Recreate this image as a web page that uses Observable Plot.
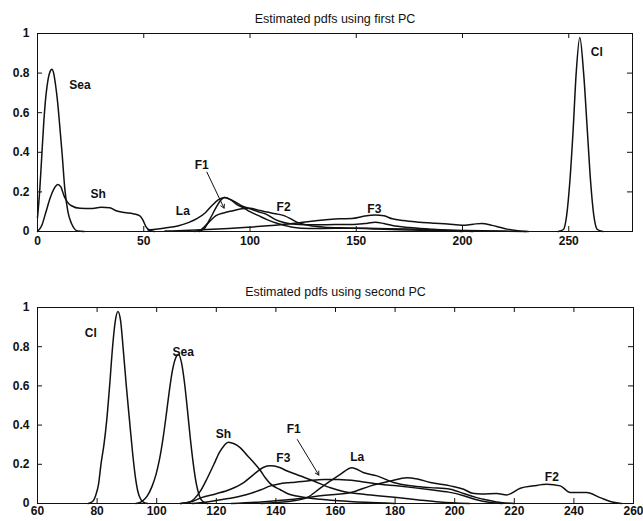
<!DOCTYPE html>
<html>
<head>
<meta charset="utf-8">
<script src="https://cdn.jsdelivr.net/npm/d3@7"></script>
<script src="https://cdn.jsdelivr.net/npm/@observablehq/plot@0.6"></script>
<style>
  html, body { margin: 0; padding: 0; background: #fff; }
  #wrap { width: 643px; height: 521px; overflow: hidden; }
  #wrap svg { display: block; }
</style>
</head>
<body>
<div id="wrap"></div>
<script>
// ---------- Titles ----------
const titleTop = "Estimated pdfs using first PC";
const titleBottom = "Estimated pdfs using second PC";

// ---------- Tick values ----------
const xTicksTop = [0, 50, 100, 150, 200, 250];
const xTicksBottom = [60, 80, 100, 120, 140, 160, 180, 200, 220, 240, 260];
const yTicks = [0, 0.2, 0.4, 0.6, 0.8, 1];

// ---------- Top panel (first PC) series: [x, density] ----------
const topSea = [[0,0.07],[1,0.2],[2,0.38],[3,0.56],[4,0.69],[5,0.77],[6,0.81],[6.8,0.82],[7.6,0.8],[8.5,0.74],[9.5,0.65],[10.5,0.53],[11.6,0.39],[12.9,0.21],[14.3,0.1],[16,0.04],[17.5,0.012],[19,0.002],[22,0]];
const topSh = [[0,0],[2,0.03],[4,0.1],[6,0.17],[8,0.22],[9.5,0.238],[11,0.225],[12.5,0.18],[14,0.15],[16,0.13],[20,0.117],[25,0.116],[30,0.122],[34,0.12],[37,0.105],[41,0.096],[45,0.09],[48,0.08],[49.5,0.06],[51,0.025],[53,0.005],[55,0]];
const topLa = [[52,0.008],[60,0.018],[66,0.028],[71,0.045],[75,0.065],[79,0.095],[82,0.13],[85,0.16],[88,0.172],[91,0.16],[94,0.135],[97,0.12],[100,0.1],[104,0.08],[108,0.06],[113,0.04],[120,0.022],[128,0.015],[140,0.016],[150,0.016],[160,0.012],[175,0.008],[190,0.004],[200,0]];
const topF1 = [[76,0],[78.5,0.015],[81,0.06],[84,0.12],[86,0.155],[88,0.172],[90,0.165],[93,0.15],[96,0.13],[100,0.115],[104,0.1],[108,0.085],[112,0.06],[116,0.045],[120,0.038],[126,0.034],[132,0.034],[140,0.035],[148,0.035],[154,0.04],[159,0.047],[163,0.04],[167,0.03],[175,0.02],[185,0.012],[195,0.005],[205,0]];
const topF2 = [[74,0],[77,0.01],[80,0.04],[84,0.08],[88,0.095],[92,0.105],[96,0.115],[100,0.117],[104,0.108],[108,0.098],[112,0.09],[116,0.08],[119,0.065],[121.5,0.05],[124,0.04],[128,0.03],[135,0.022],[145,0.018],[160,0.015],[175,0.012],[190,0.008],[210,0.004],[230,0]];
const topF3 = [[60,0.002],[80,0.01],[90,0.015],[100,0.022],[110,0.03],[120,0.04],[126,0.048],[132,0.055],[137,0.06],[142,0.064],[148,0.066],[154,0.078],[159,0.083],[163,0.079],[167,0.064],[172,0.055],[180,0.047],[187,0.042],[193,0.038],[200,0.031],[205,0.037],[209,0.041],[214,0.031],[218,0.02],[221,0.012],[226,0.004],[231,0]];
const topCl = [[245,0],[247.5,0.01],[249,0.08],[250.5,0.25],[252,0.5],[253.5,0.8],[255.2,0.98],[257,0.8],[258.8,0.5],[260.3,0.25],[261.8,0.08],[263.5,0.01],[266,0]];

const topLabelText = ["Sea", "Sh", "La", "F1", "F2", "F3", "Cl"];
const topLabelX = [20, 28.6, 68.4, 77.3, 115.8, 158.5, 263.2];
const topLabelY = [0.737, 0.19, 0.103, 0.333, 0.123, 0.115, 0.905];
const topArrow = {x1: 79.7, y1: 0.3, x2: 87.8, y2: 0.118};

// ---------- Bottom panel (second PC) series ----------
const botCl = [[77,0],[78.5,0.01],[79.5,0.04],[80.5,0.1],[81.3,0.2],[82.3,0.3],[83.2,0.42],[84.2,0.6],[85.2,0.8],[86.1,0.93],[87,0.98],[87.9,0.93],[88.7,0.8],[89.8,0.6],[90.9,0.42],[91.9,0.26],[92.8,0.14],[93.7,0.06],[94.7,0.02],[96,0.003],[97,0]];
const botSea = [[93,0],[95,0.01],[96.9,0.04],[98.5,0.09],[99.8,0.15],[101,0.23],[102.1,0.33],[103.1,0.44],[104.2,0.57],[105.3,0.68],[106.3,0.74],[107.3,0.76],[108.3,0.72],[109.3,0.62],[110.3,0.48],[111.3,0.33],[112.3,0.2],[113.3,0.1],[114.3,0.04],[115.5,0.01],[117,0]];
const botSh = [[108,0],[110.5,0.005],[112.5,0.022],[114.7,0.064],[117,0.13],[119.2,0.2],[121,0.26],[122.6,0.295],[124,0.313],[126,0.305],[128,0.285],[130.4,0.245],[132.5,0.21],[134.9,0.166],[136.5,0.13],[138.2,0.1],[141.5,0.07],[144,0.05],[147,0.038],[151,0.028],[155,0.022],[161,0.014],[170,0.006],[180,0]];
const botF3 = [[108,0],[112,0.01],[115,0.03],[120,0.05],[124.8,0.073],[129.2,0.107],[132.6,0.149],[135.9,0.185],[138.2,0.192],[141,0.185],[143.8,0.166],[148.3,0.14],[152.7,0.115],[158.3,0.08],[163,0.06],[169.5,0.047],[175,0.038],[180.6,0.03],[188,0.018],[195,0.008],[205,0]];
const botF1 = [[112,0],[118,0.01],[124,0.025],[130,0.045],[135,0.07],[138.2,0.09],[141,0.1],[144.9,0.107],[150.4,0.115],[156.1,0.123],[161,0.122],[167.2,0.115],[175,0.098],[180.6,0.09],[186,0.081],[192,0.07],[198,0.058],[203,0.04],[207,0.02],[212,0.005],[216,0]];
const botLa = [[135,0],[140,0.005],[145,0.012],[150.4,0.03],[155,0.08],[158.3,0.115],[161.6,0.149],[165.5,0.183],[169.5,0.157],[173.9,0.141],[179.5,0.107],[185.1,0.09],[191.8,0.081],[198.5,0.073],[203,0.051],[207.4,0.03],[210,0.02],[214,0.008],[220,0]];
const botF2 = [[125,0],[135,0.008],[145,0.02],[155,0.04],[165.1,0.056],[171.8,0.09],[178.5,0.115],[183.9,0.132],[187.5,0.125],[191.8,0.107],[198.5,0.09],[203,0.073],[206,0.052],[209,0.049],[214.1,0.051],[217.5,0.044],[222,0.078],[226.5,0.09],[231,0.098],[235.4,0.09],[238.8,0.056],[244.3,0.056],[248.8,0.03],[252.2,0.01],[256,0]];

const botLabelText = ["Cl", "Sea", "Sh", "F3", "F1", "La", "F2"];
const botLabelX = [77.9, 108.9, 122.4, 142.5, 146, 167.3, 232.6];
const botLabelY = [0.868, 0.772, 0.352, 0.23, 0.377, 0.234, 0.132];
const botArrow = {x1: 147.2, y1: 0.326, x2: 154.4, y2: 0.145};

// ---------- Drawing ----------
const INK = "#111";
const fontFamily = "'Liberation Sans', Arial, Helvetica, sans-serif";
const fmtY = d3.format("~g");
const TICK = 5;

function curves(seriesList) {
  return seriesList.map(s => Plot.line(s, {
    x: d => d[0], y: d => d[1], stroke: INK, strokeWidth: 1.5, curve: "monotone-x"
  }));
}

function labels(text, xs, ys) {
  const rows = text.map((t, i) => ({t, x: xs[i], y: ys[i]}));
  return Plot.text(rows, {x: "x", y: "y", text: "t", fill: INK, fontSize: 12, fontWeight: "bold"});
}

function panel({xDomain, xTicks, series, lab, arrow, title, height, marginTop, marginBottom, marginRight, titleDy, xPad}) {
  const innerW = 643 - 37 - marginRight;
  const innerH = height - marginTop - marginBottom;
  return Plot.plot({
    width: 643,
    height,
    marginLeft: 37,
    marginRight,
    marginTop,
    marginBottom,
    style: {fontFamily, fontSize: "12px", color: INK, background: "#fff"},
    x: {domain: xDomain},
    y: {domain: [0, 1]},
    marks: [
      ...curves(series),
      Plot.frame({stroke: INK, strokeWidth: 1}),
      // inward tick marks on all four sides (MATLAB box style)
      Plot.ruleX(xTicks, {x: d => d, insetTop: innerH - TICK, stroke: INK}),
      Plot.ruleX(xTicks, {x: d => d, insetBottom: innerH - TICK, stroke: INK}),
      Plot.ruleY(yTicks, {y: d => d, insetRight: innerW - TICK, stroke: INK}),
      Plot.ruleY(yTicks, {y: d => d, insetLeft: innerW - TICK, stroke: INK}),
      // tick labels
      Plot.axisX(xTicks, {anchor: "bottom", tickSize: 0, tickPadding: xPad, label: null, fontWeight: "bold"}),
      Plot.axisY(yTicks, {anchor: "left", tickSize: 0, tickPadding: 8, tickFormat: fmtY, label: null, fontWeight: "bold"}),
      labels(lab[0], lab[1], lab[2]),
      Plot.arrow([arrow], {x1: "x1", y1: "y1", x2: "x2", y2: "y2", stroke: INK, strokeWidth: 1, headLength: 6}),
      Plot.text([title], {frameAnchor: "top", dy: titleDy, text: d => d, fontSize: 12.5, fill: INK, lineAnchor: "middle"})
    ]
  });
}

const topPanel = panel({
  xDomain: [0, 280], xTicks: xTicksTop,
  series: [topSea, topSh, topLa, topF1, topF2, topF3, topCl],
  lab: [topLabelText, topLabelX, topLabelY],
  arrow: topArrow, title: titleTop,
  height: 250, marginTop: 33, marginBottom: 19, marginRight: 11, titleDy: -15, xPad: 5
});

const bottomPanel = panel({
  xDomain: [60, 260], xTicks: xTicksBottom,
  series: [botCl, botSea, botSh, botF3, botF1, botLa, botF2],
  lab: [botLabelText, botLabelX, botLabelY],
  arrow: botArrow, title: titleBottom,
  height: 271, marginTop: 57, marginBottom: 18, marginRight: 10, titleDy: -16, xPad: 3
});

const wrap = document.getElementById("wrap");
wrap.appendChild(topPanel);
wrap.appendChild(bottomPanel);
</script>
</body>
</html>
